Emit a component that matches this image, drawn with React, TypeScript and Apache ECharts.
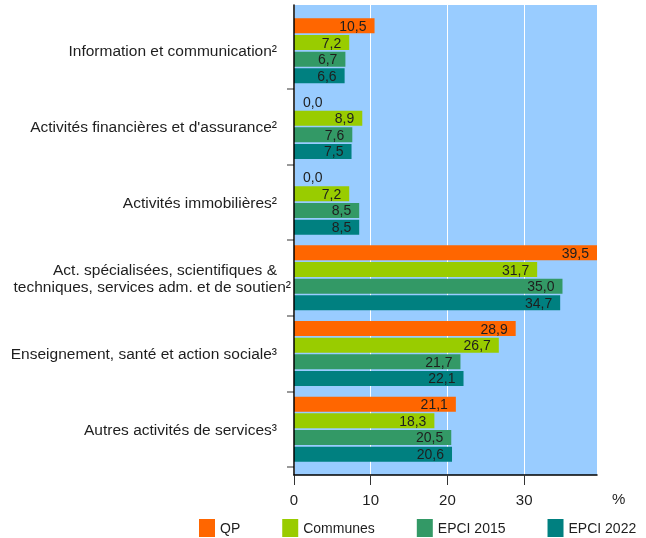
import React, { useEffect, useRef } from "react";
import * as echarts from "echarts";

const categories = [
  "Information et communication²",
  "Activités financières et d'assurance²",
  "Activités immobilières²",
  "Act. spécialisées, scientifiques &\ntechniques, services adm. et de soutien²",
  "Enseignement, santé et action sociale³",
  "Autres activités de services³",
];
const seriesNames = ["QP", "Communes", "EPCI 2015", "EPCI 2022"];
const qp = [10.5, 0.0, 0.0, 39.5, 28.9, 21.1];
const communes = [7.2, 8.9, 7.2, 31.7, 26.7, 18.3];
const epci2015 = [6.7, 7.6, 8.5, 35.0, 21.7, 20.5];
const epci2022 = [6.6, 7.5, 8.5, 34.7, 22.1, 20.6];
const xTicks = [0, 10, 20, 30];
const xMax = 39.5;
const colors = ["#FF6600", "#99CC00", "#339966", "#008080"];

const FONT = "'Liberation Sans', Arial, Helvetica, sans-serif";
const TXT = "#1e1e1e";

export default function App() {
  const ref = useRef<HTMLDivElement>(null);
  useEffect(() => {
    if (!ref.current) return;
    const chart = echarts.init(ref.current, undefined, { renderer: "svg" });
    const all = [qp, communes, epci2015, epci2022];
    const fmt = (v: number) => v.toFixed(1).replace(".", ",");
    const series = all.map((vals, si) => ({
      name: seriesNames[si],
      type: "bar",
      xAxisIndex: 1,
      yAxisIndex: 1,
      barWidth: 15,
      barGap: "11%",
      itemStyle: { color: colors[si] },
      label: {
        show: true,
        position: "insideRight",
        distance: 8,
        color: TXT,
        fontFamily: FONT,
        fontSize: 14,
        formatter: (p: any) => fmt(p.value),
      },
      data: vals.map((v) =>
        v === 0 ? { value: v, label: { position: "right", distance: 9 } } : { value: v }
      ),
    }));
    chart.setOption({
      animation: false,
      textStyle: { fontFamily: FONT },
      legend: {
        left: 194,
        top: 514,
        itemWidth: 16,
        itemHeight: 18,
        itemGap: 42,
        icon: "rect",
        textStyle: { fontFamily: FONT, fontSize: 14, color: TXT },
        data: seriesNames,
      },
      grid: [
        {
          left: 294,
          top: 5,
          width: 303,
          height: 470,
          show: true,
          backgroundColor: "#99CCFF",
          borderWidth: 0,
        },
        { left: 294, top: 13, width: 303, height: 454 },
      ],
      xAxis: [
        {
          gridIndex: 0,
          type: "value",
          min: 0,
          max: xMax,
          interval: 10,
          position: "bottom",
          name: "%",
          nameLocation: "end",
          nameGap: 15,
          nameTextStyle: {
            fontFamily: FONT,
            fontSize: 15,
            color: TXT,
            align: "left",
            verticalAlign: "top",
            padding: [16, 0, 0, 0],
          },
          axisLine: { show: true, onZero: false, lineStyle: { color: "#000", width: 1.5 } },
          axisTick: {
            show: true,
            length: 10,
            customValues: xTicks,
            lineStyle: { color: "#333", width: 1 },
          },
          axisLabel: {
            show: true,
            margin: 17,
            customValues: xTicks,
            fontFamily: FONT,
            fontSize: 15,
            color: TXT,
          },
          splitLine: { show: true, lineStyle: { color: "#ffffff", width: 1 } },
        },
        {
          gridIndex: 1,
          type: "value",
          min: 0,
          max: xMax,
          interval: 10,
          show: false,
        },
      ],
      yAxis: [
        {
          gridIndex: 0,
          type: "value",
          min: 0,
          max: 1,
          z: 5,
          axisLine: { show: true, onZero: true, lineStyle: { color: "#000", width: 1.5 } },
          axisTick: { show: false },
          axisLabel: { show: false },
          splitLine: { show: false },
        },
        {
          gridIndex: 1,
          type: "category",
          inverse: true,
          data: categories,
          axisLine: { show: false },
          axisTick: {
            show: true,
            length: 7,
            interval: (index: number) => index !== 0,
            lineStyle: { color: "#777", width: 1.5 },
          },
          axisLabel: {
            margin: 3,
            align: "right",
            fontFamily: FONT,
            fontSize: 15.5,
            color: TXT,
            lineHeight: 17,
            formatter: (value: string) => {
              const lines = value.split("\n");
              return lines
                .map((l, i) =>
                  lines.length > 1 && i === lines.length - 1 ? `{w|${l}}` : `{n|${l}}`
                )
                .join("\n");
            },
            rich: {
              n: {
                fontFamily: FONT,
                fontSize: 15.5,
                color: TXT,
                lineHeight: 17,
                padding: [0, 14, 0, 0],
              },
              w: {
                fontFamily: FONT,
                fontSize: 15.5,
                color: TXT,
                lineHeight: 17,
              },
            },
          },
          splitLine: { show: false },
        },
      ],
      series,
    });
    return () => chart.dispose();
  }, []);
  return (
    <div
      ref={ref}
      style={{ position: "fixed", left: 0, top: 0, width: 646, height: 538 }}
    />
  );
}
